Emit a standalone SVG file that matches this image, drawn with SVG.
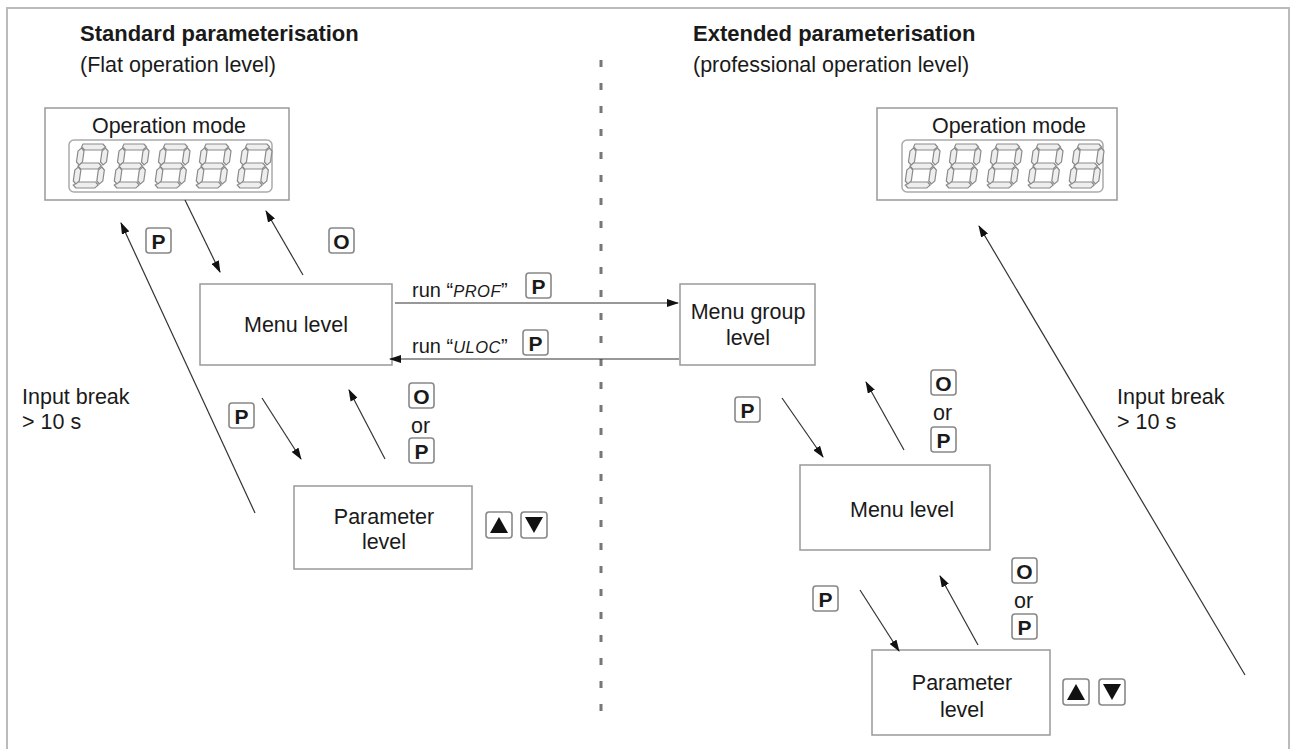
<svg xmlns="http://www.w3.org/2000/svg" xmlns:xlink="http://www.w3.org/1999/xlink" width="1291" height="749" viewBox="0 0 1291 749">
<style>
.t{font-family:"Liberation Sans",Arial,sans-serif;fill:#1a1a1a}
.h{font-size:22px;font-weight:bold}
.s{font-size:21.5px}
.m{font-size:21.5px}
.k{font-size:21px;font-weight:bold;text-anchor:middle}
.seven{font-style:italic;font-size:16.5px;letter-spacing:0.5px}
.box{fill:#fff;stroke:#999;stroke-width:1.5}
.btn{fill:#fff;stroke:#888;stroke-width:1.6}
.disp{fill:#fff;stroke:#aaa;stroke-width:1.5}
.seg{fill:#eeeeee;stroke:#8a8a8a;stroke-width:1.2}
.c{stroke:#333;stroke-width:1.2;fill:none}
</style>
<defs>
<marker id="ah" viewBox="0 0 12 8" refX="11" refY="4" markerWidth="12" markerHeight="8" markerUnits="userSpaceOnUse" orient="auto">
<path d="M0,0 L12,4 L0,8 Z" fill="#111"/>
</marker>
<g id="digit" class="seg">
<polygon points="4,0 24,0 27,3 23.5,6 6.5,6 3,3"/>
<polygon points="4,38 22,38 25,41 22,44 3,44 0,41"/>
<polygon points="5,19 22.5,19 25.5,22 22.5,25 5,25 2,22"/>
<polygon points="3,4 6,7 6,18 3,21 0,18 0,7"/>
<polygon points="27,4 30,7 30,18 27,21 24,18 24,7"/>
<polygon points="2.5,23 5.5,26 5.5,37 2.5,40 -0.5,37 -0.5,26"/>
<polygon points="26,23 29,26 29,37 26,40 23,37 23,26"/>
</g>
<g id="five">
<use xlink:href="#digit" transform="translate(0,0) skewX(-8)"/>
<use xlink:href="#digit" transform="translate(41,0) skewX(-8)"/>
<use xlink:href="#digit" transform="translate(82,0) skewX(-8)"/>
<use xlink:href="#digit" transform="translate(123,0) skewX(-8)"/>
<use xlink:href="#digit" transform="translate(164,0) skewX(-8)"/>
</g>
<g id="up"><rect class="btn" x="0" y="0" width="26" height="26" rx="3"/><path d="M4,21 L13,5 L22,21 Z" fill="#111"/></g>
<g id="down"><rect class="btn" x="0" y="0" width="26" height="26" rx="3"/><path d="M4,5 L22,5 L13,21 Z" fill="#111"/></g>
</defs>

<path d="M7,760 V8 H1289 V760" fill="none" stroke="#bbb" stroke-width="2"/>
<line x1="601" y1="60" x2="601" y2="720" stroke="#777" stroke-width="3" stroke-dasharray="7 16"/>

<g id="titles">
<text class="t h" x="80" y="41">Standard parameterisation</text>
<text class="t s" x="80" y="72">(Flat operation level)</text>
<text class="t h" x="693" y="41">Extended parameterisation</text>
<text class="t s" x="693" y="72">(professional operation level)</text>
</g>

<g id="op-left">
<rect class="box" x="45" y="108" width="244" height="92"/>
<text class="t m" x="169" y="133" text-anchor="middle">Operation mode</text>
<rect class="disp" x="69" y="140" width="203" height="52" rx="5"/>
<use xlink:href="#five" transform="translate(79,144)"/>
</g>

<g id="op-right">
<rect class="box" x="877" y="108" width="240" height="92"/>
<text class="t m" x="1009" y="133" text-anchor="middle">Operation mode</text>
<rect class="disp" x="902" y="140" width="201" height="52" rx="5"/>
<use xlink:href="#five" transform="translate(911,144)"/>
</g>

<g id="menu-left">
<rect class="box" x="200" y="284" width="192" height="81"/>
<text class="t m" x="296" y="332" text-anchor="middle">Menu level</text>
</g>

<g id="menugroup">
<rect class="box" x="680" y="284" width="135" height="81"/>
<text class="t m" x="748" y="319" text-anchor="middle">Menu group</text>
<text class="t m" x="748" y="345" text-anchor="middle">level</text>
</g>

<g id="param-left">
<rect class="box" x="294" y="486" width="178" height="83"/>
<text class="t m" x="384" y="524" text-anchor="middle">Parameter</text>
<text class="t m" x="384" y="549" text-anchor="middle">level</text>
<use xlink:href="#up" transform="translate(486,512)"/>
<use xlink:href="#down" transform="translate(521,512)"/>
</g>

<g id="menu-right">
<rect class="box" x="800" y="465" width="190" height="85"/>
<text class="t m" x="902" y="517" text-anchor="middle">Menu level</text>
</g>

<g id="param-right">
<rect class="box" x="872" y="650" width="178" height="85"/>
<text class="t m" x="962" y="690" text-anchor="middle">Parameter</text>
<text class="t m" x="962" y="717" text-anchor="middle">level</text>
<use xlink:href="#up" transform="translate(1063,679)"/>
<use xlink:href="#down" transform="translate(1099,679)"/>
</g>

<g id="connectors">
<line class="c" x1="185" y1="200" x2="220" y2="272" marker-end="url(#ah)"/>
<line class="c" x1="303" y1="275" x2="266" y2="211" marker-end="url(#ah)"/>
<line class="c" x1="395" y1="303" x2="678" y2="303" marker-end="url(#ah)"/>
<line class="c" x1="679" y1="359" x2="390" y2="359" marker-end="url(#ah)"/>
<line class="c" x1="262" y1="398" x2="301" y2="459" marker-end="url(#ah)"/>
<line class="c" x1="385" y1="459" x2="349" y2="390" marker-end="url(#ah)"/>
<line class="c" x1="255" y1="513" x2="121" y2="223" marker-end="url(#ah)"/>
<line class="c" x1="782" y1="398" x2="823" y2="457" marker-end="url(#ah)"/>
<line class="c" x1="904" y1="450" x2="866" y2="382" marker-end="url(#ah)"/>
<line class="c" x1="860" y1="590" x2="899" y2="651" marker-end="url(#ah)"/>
<line class="c" x1="978" y1="645" x2="940" y2="576" marker-end="url(#ah)"/>
<line class="c" x1="1245" y1="675" x2="979" y2="226" marker-end="url(#ah)"/>
</g>

<g id="labels">
<rect class="btn" x="146" y="228" width="25" height="25" rx="3"/><text class="t k" x="158.5" y="248.5">P</text>
<rect class="btn" x="329" y="228" width="25" height="25" rx="3"/><text class="t k" x="341.5" y="248.5">O</text>

<text class="t m" x="412" y="297" style="font-size:20px">run “<tspan class="seven">PROF</tspan>”</text>
<rect class="btn" x="526" y="273" width="25" height="25" rx="3"/><text class="t k" x="538.5" y="293.5">P</text>
<text class="t m" x="412" y="353" style="font-size:20px">run “<tspan class="seven">ULOC</tspan>”</text>
<rect class="btn" x="523" y="330" width="25" height="25" rx="3"/><text class="t k" x="535.5" y="350.5">P</text>

<rect class="btn" x="229" y="403" width="25" height="25" rx="3"/><text class="t k" x="241.5" y="423.5">P</text>
<rect class="btn" x="409" y="383" width="25" height="25" rx="3"/><text class="t k" x="421.5" y="403.5">O</text>
<text class="t m" x="411" y="433">or</text>
<rect class="btn" x="409" y="438" width="25" height="25" rx="3"/><text class="t k" x="421.5" y="458.5">P</text>

<text class="t m" x="22" y="404">Input break</text>
<text class="t m" x="22" y="429">&gt; 10 s</text>

<rect class="btn" x="735" y="397" width="25" height="25" rx="3"/><text class="t k" x="747.5" y="417.5">P</text>
<rect class="btn" x="931" y="370" width="25" height="25" rx="3"/><text class="t k" x="943.5" y="390.5">O</text>
<text class="t m" x="933" y="420">or</text>
<rect class="btn" x="931" y="427" width="25" height="25" rx="3"/><text class="t k" x="943.5" y="447.5">P</text>

<rect class="btn" x="813" y="586" width="25" height="25" rx="3"/><text class="t k" x="825.5" y="606.5">P</text>
<rect class="btn" x="1012" y="558" width="25" height="25" rx="3"/><text class="t k" x="1024.5" y="578.5">O</text>
<text class="t m" x="1014" y="608">or</text>
<rect class="btn" x="1012" y="614" width="25" height="25" rx="3"/><text class="t k" x="1024.5" y="634.5">P</text>

<text class="t m" x="1117" y="404">Input break</text>
<text class="t m" x="1117" y="429">&gt; 10 s</text>
</g>
</svg>
